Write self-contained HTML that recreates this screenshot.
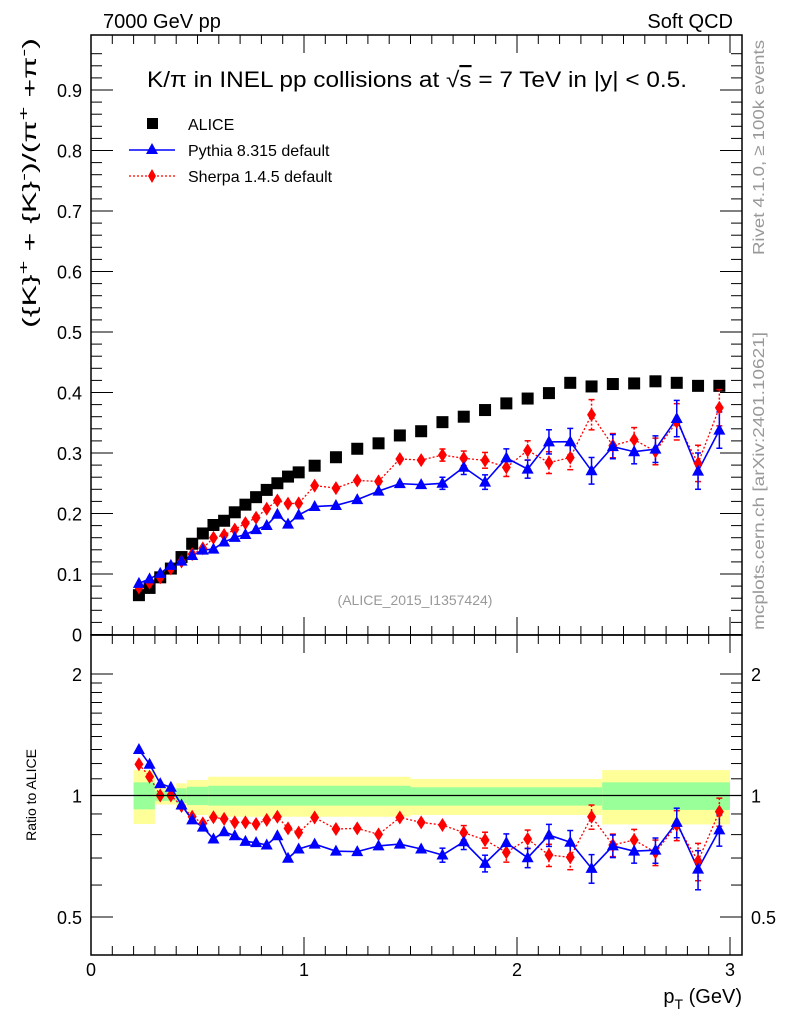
<!DOCTYPE html>
<html><head><meta charset="utf-8">
<style>
html,body{margin:0;padding:0;background:#fff;}
svg{display:block;font-family:"Liberation Sans",sans-serif;}
</style></head>
<body>
<svg id="chart" width="786" height="1024" viewBox="0 0 786 1024" xmlns="http://www.w3.org/2000/svg">
<rect x="0" y="0" width="786" height="1024" fill="#fff"/>
<g id="bands"></g>
<g id="ticks" stroke="#000" stroke-width="1"></g>
<g id="series"></g>
<rect x="91" y="35" width="651" height="600" fill="none" stroke="#000" stroke-width="1.5"/>
<rect x="91" y="635" width="651" height="320" fill="none" stroke="#000" stroke-width="1.5"/>
<line x1="91" x2="742" y1="795.5" y2="795.5" stroke="#000" stroke-width="1.3"/>

<text x="103" y="28" font-size="20">7000 GeV pp</text>
<text x="733" y="28" font-size="20" text-anchor="end">Soft QCD</text>
<text x="417" y="87" font-size="22" text-anchor="middle" textLength="540" lengthAdjust="spacingAndGlyphs">K/π in INEL pp collisions at √<tspan text-decoration="overline">s</tspan> =  7 TeV in |y| &lt; 0.5.</text>
<text x="415" y="605" font-size="14" fill="#999" text-anchor="middle">(ALICE_2015_I1357424)</text>
<text transform="translate(36,183) rotate(-90)" font-size="19" text-anchor="middle" textLength="290" lengthAdjust="spacingAndGlyphs">({K}<tspan dy="-8" font-size="14">+</tspan><tspan dy="8"> + {K}</tspan><tspan dy="-8" font-size="14">-</tspan><tspan dy="8">)/(π</tspan><tspan dy="-8" font-size="14">+</tspan><tspan dy="8"> +π</tspan><tspan dy="-8" font-size="14">-</tspan><tspan dy="8">)</tspan></text>
<text transform="translate(36,795) rotate(-90)" font-size="14" text-anchor="middle">Ratio to ALICE</text>
<text x="742" y="1003" font-size="20" text-anchor="end">p<tspan dy="6" font-size="14">T</tspan><tspan dy="-6"> (GeV)</tspan></text>
<text transform="translate(764,255) rotate(-90)" font-size="16" fill="#999" textLength="215" lengthAdjust="spacingAndGlyphs">Rivet 4.1.0, ≥ 100k events</text>
<text transform="translate(764,630) rotate(-90)" font-size="16" fill="#999" textLength="298" lengthAdjust="spacingAndGlyphs">mcplots.cern.ch [arXiv:2401.10621]</text>

<g>
<rect x="147" y="118" width="11" height="11" fill="#000"/>
<text x="188" y="130" font-size="16">ALICE</text>
<line x1="129" x2="175" y1="150" y2="150" stroke="#00f" stroke-width="1.5"/>
<polygon points="152,143 158,154 146,154" fill="#00f"/>
<text x="188" y="156" font-size="16">Pythia 8.315 default</text>
<line x1="129" x2="175" y1="176" y2="176" stroke="#f00" stroke-width="1.3" stroke-dasharray="2,2"/>
<polygon points="152,169 156,176 152,183 148,176" fill="#f00"/>
<text x="188" y="182" font-size="16">Sherpa 1.4.5 default</text>
</g>
<g id="labels" font-size="18"></g>
</svg>
<script>
// ---- data ----
const ptCenters = [0.225,0.275,0.325,0.375,0.425,0.475,0.525,0.575,0.625,0.675,0.725,0.775,0.825,0.875,0.925,0.975,
 1.05,1.15,1.25,1.35,1.45,1.55,1.65,1.75,1.85,1.95,2.05,2.15,2.25,2.35,2.45,2.55,2.65,2.75,2.85,2.95];
const aliceVals = [0.065,0.077,0.0945,0.109,0.128,0.150,0.167,0.181,0.188,0.202,0.2146,0.227,0.239,0.25,0.261,0.268,
 0.279,0.293,0.307,0.316,0.329,0.336,0.351,0.360,0.371,0.382,0.390,0.399,0.416,0.410,0.414,0.415,0.4185,0.416,0.411,0.411];
const pythiaRatio = [1.30,1.195,1.07,1.048,0.947,0.87,0.835,0.78,0.813,0.795,0.77,0.764,0.754,0.795,0.699,0.737,
 0.758,0.728,0.726,0.75,0.758,0.737,0.712,0.768,0.679,0.764,0.701,0.798,0.766,0.66,0.75,0.728,0.732,0.858,0.657,0.822];
const sherpaRatio = [1.195,1.113,1.0,1.0,0.942,0.886,0.853,0.883,0.875,0.858,0.858,0.85,0.87,0.886,0.829,0.809,
 0.882,0.826,0.829,0.801,0.882,0.858,0.845,0.809,0.776,0.723,0.78,0.712,0.703,0.886,0.754,0.776,0.723,0.845,0.688,0.912];
const pythiaErr = [0.002,0.002,0.002,0.002,0.002,0.003,0.003,0.003,0.003,0.003,0.004,0.004,0.004,0.005,0.005,0.005,
 0.005,0.005,0.006,0.006,0.008,0.008,0.01,0.012,0.012,0.015,0.015,0.02,0.022,0.022,0.02,0.02,0.022,0.03,0.03,0.03];
const sherpaErr = [0.002,0.002,0.002,0.002,0.002,0.003,0.003,0.003,0.003,0.003,0.004,0.004,0.004,0.005,0.005,0.006,
 0.006,0.006,0.007,0.007,0.008,0.009,0.01,0.012,0.013,0.015,0.016,0.018,0.02,0.025,0.02,0.02,0.022,0.03,0.03,0.03];
const bandEdgesLo = [0.2,0.3,0.4,0.45,0.55,1.5,2.4];
const bandEdgesHi = [0.3,0.4,0.45,0.55,1.5,2.4,3.0];
const yellowUp = [1.156,1.045,1.072,1.092,1.113,1.099,1.156];
const yellowDn = [0.85,0.95,0.921,0.895,0.886,0.895,0.848];
const greenUp = [1.078,1.025,1.042,1.051,1.057,1.048,1.078];
const greenDn = [0.924,0.97,0.957,0.947,0.944,0.944,0.921];
const mainTickLabels = ["0","0.1","0.2","0.3","0.4","0.5","0.6","0.7","0.8","0.9"];
const mainTickVals = [0,0.1,0.2,0.3,0.4,0.5,0.6,0.7,0.8,0.9];
const ratioTickLabels = ["0.5","1","2"];
const ratioTickVals = [0.5,1,2];
const xTickLabels = ["0","1","2","3"];
const xTickVals = [0,1,2,3];

// ---- axes ----
const NS="http://www.w3.org/2000/svg";
const xS = p => 91 + 213*p;
const yM = v => 634.5 - 605*v;
const yR = r => 795.5 - 121.5*Math.log2(r);
function mk(tag, attrs, parent){const e=document.createElementNS(NS,tag);for(const k in attrs)e.setAttribute(k,attrs[k]);parent.appendChild(e);return e;}

// bands
const bands=document.getElementById('bands');
for(let i=0;i<bandEdgesLo.length;i++){
  const x1=xS(bandEdgesLo[i]), x2=xS(bandEdgesHi[i]);
  const y=mk('rect',{x:x1,y:yR(yellowUp[i]),width:x2-x1,height:yR(yellowDn[i])-yR(yellowUp[i]),fill:'#ffff99'},bands);
  
  
  const g=mk('rect',{x:x1,y:yR(greenUp[i]),width:x2-x1,height:yR(greenDn[i])-yR(greenUp[i]),fill:'#99ff99'},bands);
  
  
}

// ticks
const tk=document.getElementById('ticks');
for(let v=0;v<=0.98;v+=0.02){
  const major=Math.abs(v*10-Math.round(v*10))<1e-6, L=major?22:11, y=yM(v);
  if(y<36)continue;
  mk('line',{x1:91,x2:91+L,y1:y,y2:y},tk);
  mk('line',{x1:742,x2:742-L,y1:y,y2:y},tk);
}
const rMinor=[0.5,0.6,0.7,0.8,0.9,1.1,1.2,1.3,1.4,1.5,1.6,1.7,1.8,1.9,2];
rMinor.forEach(r=>{const maj=(r===0.5||r===2);const L=maj?22:11;const y=yR(r);
  mk('line',{x1:91,x2:91+L,y1:y,y2:y},tk);mk('line',{x1:742,x2:742-L,y1:y,y2:y},tk);});
for(let i=0;i<=30;i++){
  const p=i/10, x=xS(p), maj=(i%10===0), L=maj?18:9;
  mk('line',{x1:x,x2:x,y1:35,y2:35+L},tk);
  mk('line',{x1:x,x2:x,y1:635,y2:635-L},tk);
  mk('line',{x1:x,x2:x,y1:635,y2:635+L},tk);
  mk('line',{x1:x,x2:x,y1:955,y2:955-L},tk);
}

// tick labels
const lab=document.getElementById('labels');
mainTickVals.forEach((v,i)=>{const t=mk('text',{x:82,y:yM(v)+7,'text-anchor':'end'},lab);t.textContent=mainTickLabels[i];
  
  });
ratioTickVals.forEach((v,i)=>{
  const t=mk('text',{x:82,y:yR(v)+7,'text-anchor':'end'},lab);t.textContent=ratioTickLabels[i];
  
  
  const t2=mk('text',{x:751,y:yR(v)+7,'text-anchor':'start'},lab);t2.textContent=ratioTickLabels[i];
  
  });
xTickVals.forEach((v,i)=>{const t=mk('text',{x:xS(v),y:976,'text-anchor':'middle'},lab);t.textContent=xTickLabels[i];
  
  });

// series
const S=document.getElementById('series');
function tri(x,y,c,parent,name){const p=mk('polygon',{points:`${x},${y-6.5} ${x+6},${y+4.5} ${x-6},${y+4.5}`,fill:c},parent);
  
  }
function dia(x,y,c,parent,name){const p=mk('polygon',{points:`${x},${y-7} ${x+4.5},${y} ${x},${y+7} ${x-4.5},${y}`,fill:c},parent);
  
  }
function errbar(x,y1,y2,c,dash,parent){if(Math.abs(y2-y1)<12)return;mk('line',{x1:x,x2:x,y1:y1,y2:y2,stroke:c,'stroke-width':1.5,'stroke-dasharray':dash},parent);
  mk('line',{x1:x-3,x2:x+3,y1:y1,y2:y1,stroke:c,'stroke-width':1.5},parent);mk('line',{x1:x-3,x2:x+3,y1:y2,y2:y2,stroke:c,'stroke-width':1.5},parent);}

const py=ptCenters.map((p,i)=>aliceVals[i]*pythiaRatio[i]);
const sh=ptCenters.map((p,i)=>aliceVals[i]*sherpaRatio[i]);
// lines
mk('polyline',{points:ptCenters.map((p,i)=>xS(p)+','+yM(sh[i])).join(' '),fill:'none',stroke:'#f00','stroke-width':1.3,'stroke-dasharray':'2,2'},S);
mk('polyline',{points:ptCenters.map((p,i)=>xS(p)+','+yM(py[i])).join(' '),fill:'none',stroke:'#00f','stroke-width':1.6},S);
mk('polyline',{points:ptCenters.map((p,i)=>xS(p)+','+yR(sherpaRatio[i])).join(' '),fill:'none',stroke:'#f00','stroke-width':1.3,'stroke-dasharray':'2,2'},S);
mk('polyline',{points:ptCenters.map((p,i)=>xS(p)+','+yR(pythiaRatio[i])).join(' '),fill:'none',stroke:'#00f','stroke-width':1.6},S);

ptCenters.forEach((p,i)=>{
  const x=xS(p);
  const sq=mk('rect',{x:x-6,y:yM(aliceVals[i])-6,width:12,height:12,fill:'#000'},S);
  
  
  errbar(x,yM(sh[i]+sherpaErr[i]),yM(sh[i]-sherpaErr[i]),'#f00','2,2',S);
  errbar(x,yM(py[i]+pythiaErr[i]),yM(py[i]-pythiaErr[i]),'#00f','',S);
  dia(x,yM(sh[i]),'#f00',S,'sherpa-point');
  tri(x,yM(py[i]),'#00f',S,'pythia-point');
  const se=sherpaErr[i]/aliceVals[i], pe=pythiaErr[i]/aliceVals[i];
  errbar(x,yR(sherpaRatio[i]+se),yR(sherpaRatio[i]-se),'#f00','2,2',S);
  errbar(x,yR(pythiaRatio[i]+pe),yR(pythiaRatio[i]-pe),'#00f','',S);
  dia(x,yR(sherpaRatio[i]),'#f00',S,'sherpa-ratio-point');
  tri(x,yR(pythiaRatio[i]),'#00f',S,'pythia-ratio-point');
});
</script>
</body></html>
